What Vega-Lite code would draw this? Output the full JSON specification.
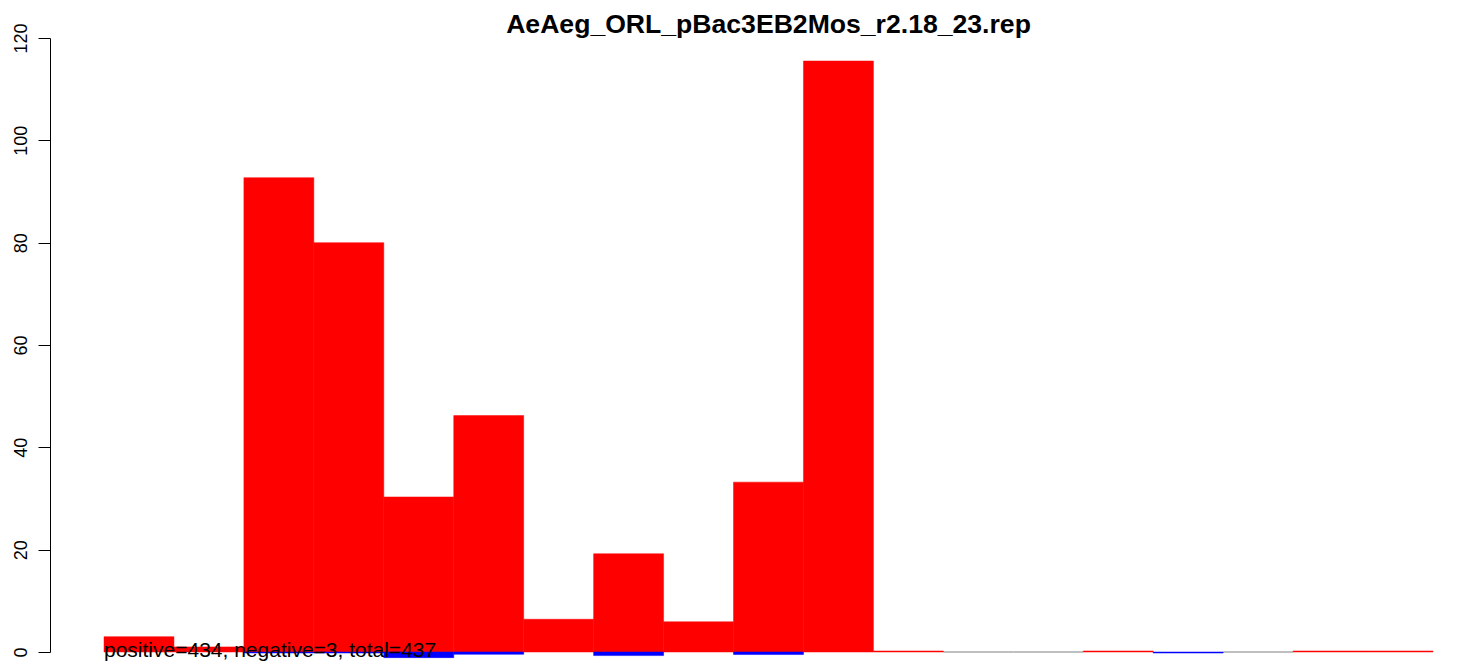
{
  "$schema": "https://vega.github.io/schema/vega-lite/v6.json",
  "autosize": {"type": "none"},
  "width": 1329,
  "height": 614,
  "padding": {"left": 104, "top": 38, "right": 25, "bottom": 17},
  "background": "white",
  "config": {"view": {"stroke": null}, "font": "Liberation Sans"},
  "title": {"text": "AeAeg_ORL_pBac3EB2Mos_r2.18_23.rep", "font": "Liberation Sans", "fontSize": 26.6, "fontWeight": "bold", "color": "black", "anchor": "middle", "baseline": "alphabetic", "offset": 3, "dy": 40},
  "datasets": {
    "bins": [
      {"lo": 0, "hi": 1, "pos": 3.0, "neg": 0},
      {"lo": 1, "hi": 2, "pos": 1.0, "neg": 0},
      {"lo": 2, "hi": 3, "pos": 92.7, "neg": -0.2},
      {"lo": 3, "hi": 4, "pos": 80.0, "neg": -0.2},
      {"lo": 4, "hi": 5, "pos": 30.3, "neg": -1.1},
      {"lo": 5, "hi": 6, "pos": 46.2, "neg": -0.45},
      {"lo": 6, "hi": 7, "pos": 6.4, "neg": 0},
      {"lo": 7, "hi": 8, "pos": 19.2, "neg": -0.7},
      {"lo": 8, "hi": 9, "pos": 5.9, "neg": 0},
      {"lo": 9, "hi": 10, "pos": 33.2, "neg": -0.5},
      {"lo": 10, "hi": 11, "pos": 115.5, "neg": 0},
      {"lo": 11, "hi": 12, "pos": 0.2, "neg": 0},
      {"lo": 12, "hi": 13, "pos": 0, "neg": 0},
      {"lo": 13, "hi": 14, "pos": 0, "neg": 0},
      {"lo": 14, "hi": 15, "pos": 0.2, "neg": 0},
      {"lo": 15, "hi": 16, "pos": 0, "neg": -0.2},
      {"lo": 16, "hi": 17, "pos": 0, "neg": 0},
      {"lo": 17, "hi": 18, "pos": 0.2, "neg": 0},
      {"lo": 18, "hi": 19, "pos": 0.2, "neg": 0}
    ],
    "note": [
      {"x": 0, "y": -1.04, "label": "positive=434, negative=3, total=437"}
    ]
  },
  "layer": [
    {
      "data": {"name": "bins"},
      "transform": [{"filter": "datum.pos == 0 && datum.neg == 0"}],
      "mark": {"type": "rule", "color": "#808080", "strokeWidth": 1.2},
      "encoding": {
        "x": {"field": "lo", "type": "quantitative", "scale": {"domain": [0, 19], "nice": false, "zero": false}, "axis": null},
        "x2": {"field": "hi"},
        "y": {"datum": 0, "type": "quantitative", "scale": {"domain": [0, 120], "nice": false}, "axis": {"values": [0, 20, 40, 60, 80, 100, 120], "title": null, "grid": false, "offset": 54, "tickSize": 12, "tickColor": "black", "tickWidth": 1, "domainColor": "black", "domainWidth": 1, "labelAngle": -90, "labelAlign": "center", "labelBaseline": "bottom", "labelPadding": 8, "labelFontSize": 18, "labelFont": "Liberation Sans", "labelColor": "black"}}
      }
    },
    {
      "data": {"name": "bins"},
      "transform": [{"filter": "datum.pos > 0"}],
      "mark": {"type": "bar", "color": "#FF0000", "stroke": "#FF0000", "strokeWidth": 0.5},
      "encoding": {
        "x": {"field": "lo", "type": "quantitative"},
        "x2": {"field": "hi"},
        "y": {"field": "pos", "type": "quantitative"},
        "y2": {"datum": 0}
      }
    },
    {
      "data": {"name": "bins"},
      "transform": [{"filter": "datum.neg < 0"}],
      "mark": {"type": "bar", "color": "#0000FF", "stroke": "#0000FF", "strokeWidth": 0.5},
      "encoding": {
        "x": {"field": "lo", "type": "quantitative"},
        "x2": {"field": "hi"},
        "y": {"field": "neg", "type": "quantitative"},
        "y2": {"datum": 0}
      }
    },
    {
      "data": {"name": "note"},
      "mark": {"type": "text", "align": "left", "baseline": "alphabetic", "font": "Liberation Sans", "fontSize": 21, "color": "black"},
      "encoding": {
        "x": {"field": "x", "type": "quantitative"},
        "y": {"field": "y", "type": "quantitative"},
        "text": {"field": "label"}
      }
    }
  ]
}
